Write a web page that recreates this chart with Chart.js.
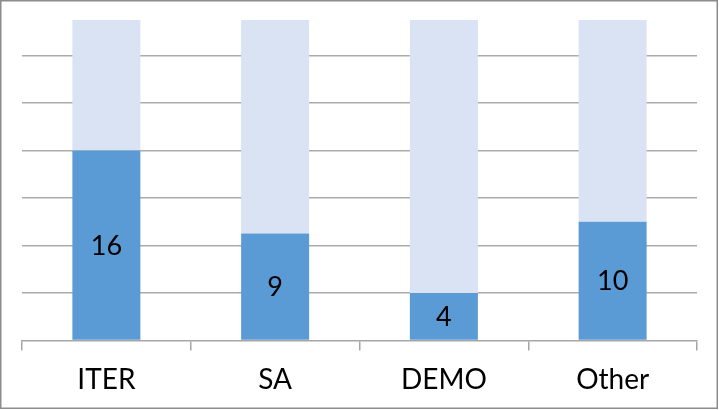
<!DOCTYPE html>
<html>
<head>
<meta charset="utf-8">
<script src="https://cdn.jsdelivr.net/npm/chart.js@4"></script>
<style>
html,body{margin:0;padding:0;background:#fff;}
#wrap{position:absolute;left:0;top:0;width:719px;height:410px;}
</style>
</head>
<body>
<div id="wrap"><canvas id="c" width="719" height="410"></canvas></div>
<script>
const categories = ['ITER', 'SA', 'DEMO', 'Other'];
const countValues = [16, 9, 4, 10];
const remainderValues = [11, 18, 23, 17];
const axisMax = 27;
const axisStep = 4;

const centerLabels = {
  id: 'centerLabels',
  afterDatasetsDraw(chart) {
    const ctx = chart.ctx;
    const meta = chart.getDatasetMeta(0);
    ctx.save();
    ctx.font = '27px Lato';
    ctx.fillStyle = '#000000';
    ctx.textAlign = 'center';
    ctx.textBaseline = 'middle';
    meta.data.forEach((bar, i) => {
      const p = bar.getProps(['x', 'y', 'base'], true);
      ctx.fillText(String(countValues[i]), p.x, (p.y + p.base) / 2 + 1);
    });
    ctx.restore();
  }
};

const frame = {
  id: 'frame',
  afterDraw(chart) {
    const ctx = chart.ctx;
    ctx.save();
    ctx.strokeStyle = '#8c8c8c';
    ctx.lineWidth = 1.5;
    ctx.strokeRect(0.75, 0.75, 716.5, 407.5);
    ctx.restore();
  }
};

new Chart(document.getElementById('c'), {
  type: 'bar',
  data: {
    labels: categories,
    datasets: [
      {
        data: countValues,
        backgroundColor: '#5B9BD5',
        borderWidth: 0,
        categoryPercentage: 1,
        barPercentage: 0.403
      },
      {
        data: remainderValues,
        backgroundColor: '#DAE3F3',
        borderWidth: 0,
        categoryPercentage: 1,
        barPercentage: 0.403
      }
    ]
  },
  options: {
    responsive: false,
    animation: false,
    devicePixelRatio: 1,
    layout: { padding: { left: 22, right: 22, top: 20, bottom: 0 } },
    plugins: { legend: { display: false }, tooltip: { enabled: false } },
    scales: {
      x: {
        stacked: true,
        grid: {
          offset: true,
          drawOnChartArea: false,
          drawTicks: true,
          tickLength: 10,
          color: '#a6a6a6',
          lineWidth: 1.5
        },
        border: { display: true, color: '#a6a6a6', width: 1.5 },
        ticks: {
          color: '#000000',
          font: { family: 'Lato', size: 28 },
          padding: 13,
          maxRotation: 0
        }
      },
      y: {
        stacked: true,
        min: 0,
        max: axisMax,
        ticks: { display: false, stepSize: axisStep },
        border: { display: false },
        grid: {
          drawTicks: false,
          lineWidth: 1.5,
          color: (c) => (c.tick && c.tick.value % axisStep === 0 && c.tick.value !== 0) ? '#ababab' : 'rgba(0,0,0,0)'
        }
      }
    }
  },
  plugins: [centerLabels, frame]
});
</script>
</body>
</html>
